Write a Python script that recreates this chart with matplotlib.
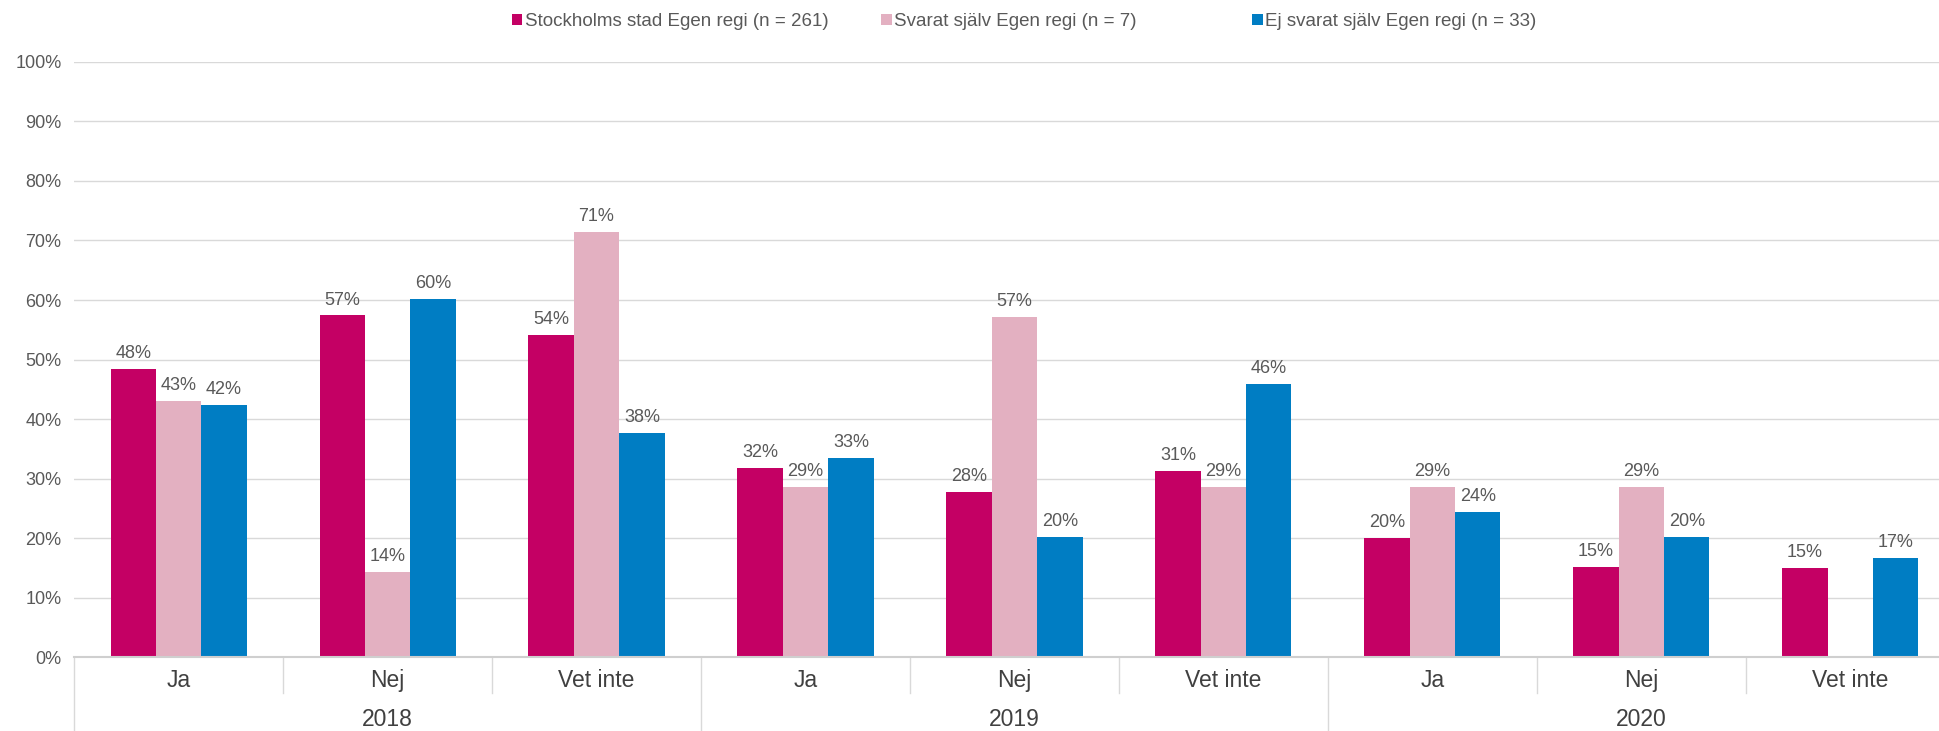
# coding: utf-8
import numpy as np
import matplotlib
matplotlib.use('Agg')
import matplotlib.pyplot as plt

plt.rcParams['font.family'] = ['Liberation Sans', 'DejaVu Sans']

years = ['2018', '2019', '2020']
answers = ['Ja', 'Nej', 'Vet inte']

seriesNames = ['Stockholms stad Egen regi (n = 261)',
               'Svarat själv Egen regi (n = 7)',
               'Ej svarat själv Egen regi (n = 33)']
seriesColors = ['#C40064', '#E3B0C1', '#007DC3']

# andel i procent, ordning: 2018 Ja/Nej/Vet inte, 2019 ..., 2020 ...
stad = [48.4, 57.4, 54.1, 31.8, 27.7, 31.2, 20.0, 15.2, 15.0]
svarat = [43.0, 14.3, 71.4, 28.6, 57.1, 28.6, 28.6, 28.6, np.nan]
ejSvarat = [42.4, 60.1, 37.6, 33.4, 20.2, 45.9, 24.3, 20.2, 16.6]

seriesValues = [stad, svarat, ejSvarat]

txtColor = '#595959'
gridColor = '#D9D9D9'

fig = plt.figure(figsize=(19.39, 7.31), dpi=100)
ax0 = fig.add_axes([0.0382, 0.1012, 0.970, 0.814])

#------------------
nCat = len(years) * len(answers)
x = np.arange(nCat)
barW = 0.217

for i, (vals, name, col) in enumerate(zip(seriesValues, seriesNames, seriesColors)):
    xs = x + (i - 1) * barW
    vals = np.array(vals)
    ax0.bar(xs, np.nan_to_num(vals), barW, color=col, label=name, zorder=2)
    for xi, v in zip(xs, vals):
        if np.isnan(v):
            continue
        ax0.annotate('{:.0f}%'.format(v), (xi, v), xytext=(0, 5),
                     textcoords='offset points', ha='center', va='bottom',
                     fontsize=13, color=txtColor)

#------------------
ax0.set_xlim(-0.5, nCat - 0.5)
ax0.set_ylim(0, 100)
ax0.set_yticks(np.arange(0, 101, 10))
ax0.set_yticklabels(['{}%'.format(v) for v in range(0, 101, 10)])
ax0.tick_params(axis='y', length=0, pad=9, labelsize=13, labelcolor=txtColor)
ax0.set_xticks([])
ax0.yaxis.grid(True, color=gridColor, lw=1.0, zorder=0)
ax0.set_axisbelow(True)

for s in ['top', 'right', 'left']:
    ax0.spines[s].set_visible(False)
ax0.spines['bottom'].set_color('#CFCFCF')
ax0.spines['bottom'].set_linewidth(1.5)

# kategorier och år under axeln
trans = ax0.get_xaxis_transform()
for k in range(nCat):
    ax0.text(k, -0.02, answers[k % 3], transform=trans, ha='center', va='top',
             fontsize=16.5, color='#404040')
for j, yr in enumerate(years):
    ax0.text(3 * j + 1, -0.085, yr, transform=trans, ha='center', va='top',
             fontsize=16.5, color='#404040')

for k in range(nCat + 1):
    yEnd = -0.13 if k % 3 == 0 else -0.06
    ax0.plot([k - 0.5, k - 0.5], [0, yEnd], transform=trans, color=gridColor,
             lw=1.0, clip_on=False)

#------------------
# en legendpost per serie, jämnt utplacerade
handles_ax, labels_ax = ax0.get_legend_handles_labels()
legX = [0.2640, 0.4545, 0.6458]
for h, l, lx in zip(handles_ax, labels_ax, legX):
    leg = fig.legend([h], [l], loc='upper left', bbox_to_anchor=(lx, 0.982),
                     frameon=False, fontsize=13.5, handlelength=0.55, handleheight=0.55,
                     handletextpad=0.15, borderpad=0, borderaxespad=0)
    for t in leg.get_texts():
        t.set_color(txtColor)

plt.savefig('out.png', dpi=100)
